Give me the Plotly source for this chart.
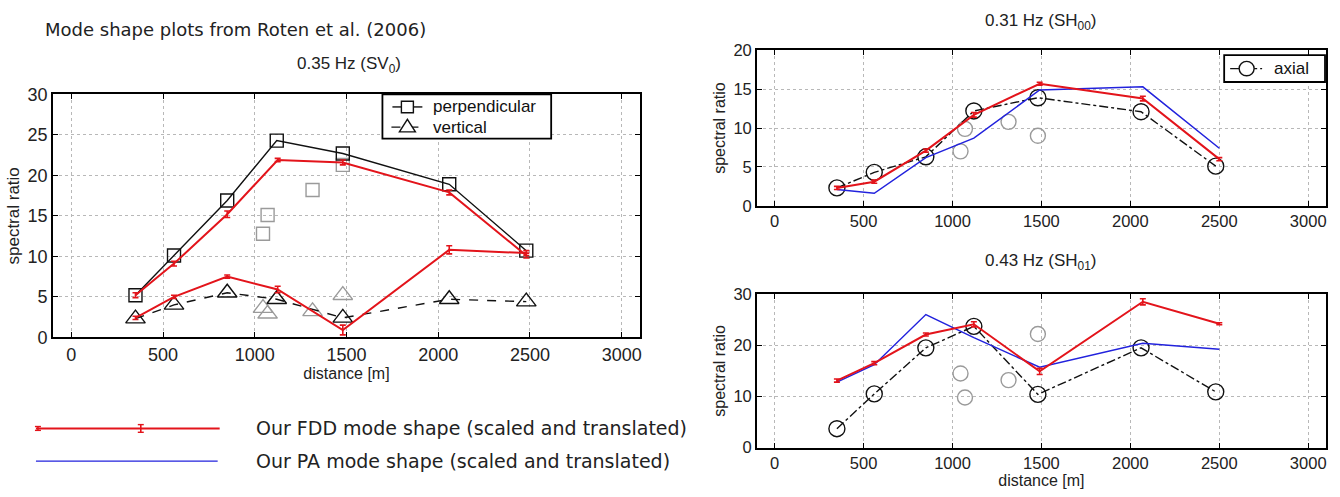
import plotly.graph_objects as go

# ---- station positions along the profile [m] ----
station_x = [350, 560, 850, 1120, 1480, 2060, 2480]
extra_x = [1045, 1070, 1315, 1480]
fdd_x_sv = [350, 560, 850, 1125, 1480, 2060, 2480]
fdd_x_sh = [350, 560, 850, 1120, 1490, 2070, 2500]
x_ticks = [0, 500, 1000, 1500, 2000, 2500, 3000]

# ---- 0.35 Hz (SV0) ----
sv_perp = [5.2, 10.1, 16.9, 24.3, 22.7, 18.9, 10.7]
sv_vert = [2.3, 4.0, 5.5, 4.7, 2.4, 4.7, 4.4]
sv_perp_extra = [12.8, 15.1, 18.2, 21.3]
sv_vert_extra = [3.6, 2.9, 3.2, 5.2]
fdd_sv_perp = [5.2, 9.1, 15.2, 21.9, 21.6, 17.9, 10.1]
fdd_sv_perp_err = [0.3, 0.3, 0.4, 0.2, 0.3, 0.3, 0.3]
fdd_sv_vert = [2.4, 5.0, 7.5, 5.9, 0.9, 10.8, 10.4]
fdd_sv_vert_err = [0.2, 0.2, 0.2, 0.4, 0.6, 0.5, 0.3]

# ---- 0.31 Hz (SH00) ----
sh00_axial = [2.3, 4.3, 6.3, 12.2, 13.9, 12.1, 5.1]
sh00_extra = [7.0, 9.9, 10.8, 9.0]
fdd_sh00 = [2.3, 3.1, 7.1, 11.7, 15.7, 13.8, 6.0]
fdd_sh00_err = [0.2, 0.2, 0.2, 0.3, 0.2, 0.3, 0.2]
pa_sh00 = [2.1, 1.6, 6.2, 8.7, 14.9, 15.3, 7.4]

# ---- 0.43 Hz (SH01) ----
sh01_axial = [3.7, 10.5, 19.5, 23.7, 10.4, 19.5, 10.9]
sh01_extra = [14.5, 9.8, 13.2, 22.2]
fdd_sh01 = [13.1, 16.5, 22.1, 24.1, 14.9, 28.5, 24.2]
fdd_sh01_err = [0.3, 0.3, 0.3, 0.5, 0.6, 0.6, 0.2]
pa_sh01 = [12.8, 16.2, 26.0, 21.5, 15.7, 20.4, 19.2]

W, H = 1340, 497
RED = "#e3141b"
BLUE = "#2222dd"
GRAY = "#9a9a9a"
INK = "#111111"
HELV = "Liberation Sans, Arial, sans-serif"
DEJAVU = "DejaVu Sans, sans-serif"


def px_x(p):
    return p / W


def px_y(p):
    return 1 - p / H


fig = go.Figure()


def fdd_trace(x, y, err, xa, ya):
    return go.Scatter(
        x=x, y=y, xaxis=xa, yaxis=ya, mode="lines",
        line=dict(color=RED, width=2),
        error_y=dict(type="data", array=err, color=RED, thickness=1.6, width=3),
    )


def pa_trace(x, y, xa, ya):
    return go.Scatter(x=x, y=y, xaxis=xa, yaxis=ya, mode="lines",
                      line=dict(color=BLUE, width=1.5))


def marker_trace(x, y, xa, ya, symbol, size, color, dash=None):
    mode = "markers" if dash is None else "lines+markers"
    return go.Scatter(
        x=x, y=y, xaxis=xa, yaxis=ya, mode=mode,
        line=dict(color=color, width=1.4, dash=dash or "solid"),
        marker=dict(symbol=symbol, size=size, color=color, line=dict(width=1.4)),
    )


# left panel: SV0
fig.add_trace(marker_trace(extra_x, sv_perp_extra, "x", "y", "square-open", 13, GRAY))
fig.add_trace(marker_trace(extra_x, sv_vert_extra, "x", "y", "triangle-up-open", 17, GRAY))
fig.add_trace(marker_trace(station_x, sv_perp, "x", "y", "square-open", 13, INK, "solid"))
fig.add_trace(marker_trace(station_x, sv_vert, "x", "y", "triangle-up-open", 17, INK, "dash"))
fig.add_trace(fdd_trace(fdd_x_sv, fdd_sv_perp, fdd_sv_perp_err, "x", "y"))
fig.add_trace(fdd_trace(fdd_x_sv, fdd_sv_vert, fdd_sv_vert_err, "x", "y"))

# right top: SH00
fig.add_trace(marker_trace(extra_x, sh00_extra, "x2", "y2", "circle-open", 15, GRAY))
fig.add_trace(marker_trace(station_x, sh00_axial, "x2", "y2", "circle-open", 16, INK, "dashdot"))
fig.add_trace(pa_trace(fdd_x_sh, pa_sh00, "x2", "y2"))
fig.add_trace(fdd_trace(fdd_x_sh, fdd_sh00, fdd_sh00_err, "x2", "y2"))

# right bottom: SH01
fig.add_trace(marker_trace(extra_x, sh01_extra, "x3", "y3", "circle-open", 15, GRAY))
fig.add_trace(marker_trace(station_x, sh01_axial, "x3", "y3", "circle-open", 16, INK, "dashdot"))
fig.add_trace(pa_trace(fdd_x_sh, pa_sh01, "x3", "y3"))
fig.add_trace(fdd_trace(fdd_x_sh, fdd_sh01, fdd_sh01_err, "x3", "y3"))


def axis(domain, anchor, rng, dtick=None, tickvals=None, title=None, size=16, tsize=16):
    d = dict(
        domain=domain, anchor=anchor, range=rng, showline=True, linecolor="black",
        linewidth=1.6, mirror="allticks", ticks="inside", ticklen=5, tickcolor="black",
        showgrid=True, gridcolor="#b8b8b8", griddash="dot", gridwidth=1,
        zeroline=False, tickfont=dict(family=HELV, size=size, color="#222"),
        fixedrange=True,
    )
    if dtick is not None:
        d["dtick"] = dtick
        d["tick0"] = 0
    if tickvals is not None:
        d["tickvals"] = tickvals
    if title:
        d["title"] = dict(text=title, font=dict(family=HELV, size=tsize, color="#222"), standoff=4)
    return d


left_x = [px_x(53), px_x(641)]
left_y = [px_y(341), px_y(88)]
right_x = [px_x(758), px_x(1328)]
rt_y = [px_y(204), px_y(42)]
rb_y = [px_y(456), px_y(296)]

fig.update_layout(
    width=W, height=H, margin=dict(l=0, r=0, t=0, b=0),
    paper_bgcolor="white", plot_bgcolor="white", showlegend=False,
    xaxis=axis(left_x, "y", [-100, 3100], tickvals=x_ticks, title="distance [m]", size=18, tsize=16),
    yaxis=axis(left_y, "x", [0, 30], dtick=5, title="spectral ratio", size=18, tsize=17),
    xaxis2=axis(right_x, "y2", [-100, 3100], tickvals=x_ticks, size=16.5),
    yaxis2=axis(rt_y, "x2", [0, 20], dtick=5, title="spectral ratio", size=16.5),
    xaxis3=axis(right_x, "y3", [-100, 3100], tickvals=x_ticks, title="distance [m]", size=16.5),
    yaxis3=axis(rb_y, "x3", [0, 30], dtick=10, title="spectral ratio", size=16.5),
)

annotations = [
    dict(text="Mode shape plots from Roten et al. (2006)", x=px_x(43), y=px_y(20),
         xanchor="left", yanchor="middle", font=dict(family=DEJAVU, size=18, color="#222")),
    dict(text="0.35 Hz (SV<sub>0</sub>)", x=px_x(350), y=px_y(57),
         xanchor="center", yanchor="middle", font=dict(family=HELV, size=17, color="#222")),
    dict(text="0.31 Hz (SH<sub>00</sub>)", x=px_x(1043), y=px_y(12),
         xanchor="center", yanchor="middle", font=dict(family=HELV, size=17, color="#222")),
    dict(text="0.43 Hz (SH<sub>01</sub>)", x=px_x(1043), y=px_y(263),
         xanchor="center", yanchor="middle", font=dict(family=HELV, size=17, color="#222")),
    dict(text="Our FDD mode shape (scaled and translated)", x=px_x(254), y=px_y(436),
         xanchor="left", yanchor="middle", font=dict(family=DEJAVU, size=19, color="#222")),
    dict(text="Our PA mode shape (scaled and translated)", x=px_x(254), y=px_y(470),
         xanchor="left", yanchor="middle", font=dict(family=DEJAVU, size=19, color="#222")),
    # boxed legends inside the panels
    dict(text="perpendicular", x=px_x(432), y=px_y(101),
         xanchor="left", yanchor="middle", font=dict(family=HELV, size=17, color=INK)),
    dict(text="vertical", x=px_x(432), y=px_y(122),
         xanchor="left", yanchor="middle", font=dict(family=HELV, size=17, color=INK)),
    dict(text="axial", x=px_x(1274), y=px_y(61),
         xanchor="left", yanchor="middle", font=dict(family=HELV, size=17, color=INK)),
]
for a in annotations:
    a.update(xref="paper", yref="paper", showarrow=False)
fig.update_layout(annotations=annotations)


def hline(x0, x1, y, color, width, dash="solid"):
    return dict(type="line", x0=px_x(x0), x1=px_x(x1), y0=px_y(y), y1=px_y(y),
                line=dict(color=color, width=width, dash=dash))


shapes = []
# left legend box
shapes.append(dict(type="rect", x0=px_x(383), x1=px_x(552), y0=px_y(88), y1=px_y(134),
                   fillcolor="white", line=dict(color="black", width=1.8)))
shapes.append(hline(393, 423, 101, INK, 1.4))
shapes.append(dict(type="rect", x0=px_x(402), x1=px_x(414), y0=px_y(95), y1=px_y(107),
                   fillcolor="white", line=dict(color=INK, width=1.4)))
shapes.append(hline(392, 424, 122, INK, 1.4, "dash"))
tri = "M {:.5f},{:.5f} L {:.5f},{:.5f} L {:.5f},{:.5f} Z".format(
    px_x(400), px_y(127), px_x(416), px_y(127), px_x(408), px_y(114))
shapes.append(dict(type="path", path=tri, fillcolor="white", line=dict(color=INK, width=1.4)))
# right-top legend box
shapes.append(dict(type="rect", x0=px_x(1226), x1=px_x(1327), y0=px_y(47), y1=px_y(75),
                   fillcolor="white", line=dict(color="black", width=1.8)))
shapes.append(hline(1232, 1264, 61, INK, 1.3, "dashdot"))
shapes.append(dict(type="circle", x0=px_x(1241), x1=px_x(1256), y0=px_y(53.5), y1=px_y(68.5),
                   fillcolor="white", line=dict(color=INK, width=1.4)))
# key samples for the two mode-shape curves below the left panel
shapes.append(hline(36, 220, 436, RED, 2))
shapes.append(hline(36, 218, 470, BLUE, 1.3))
for cx, hh in [(38, 2), (141, 4)]:
    shapes.append(dict(type="line", x0=px_x(cx), x1=px_x(cx), y0=px_y(436 - hh), y1=px_y(436 + hh),
                       line=dict(color=RED, width=1.6)))
    for yy in (436 - hh, 436 + hh):
        shapes.append(hline(cx - 3, cx + 3, yy, RED, 1.4))
for s in shapes:
    s.update(xref="paper", yref="paper")
fig.update_layout(shapes=shapes)

fig.write_html("out.html")
